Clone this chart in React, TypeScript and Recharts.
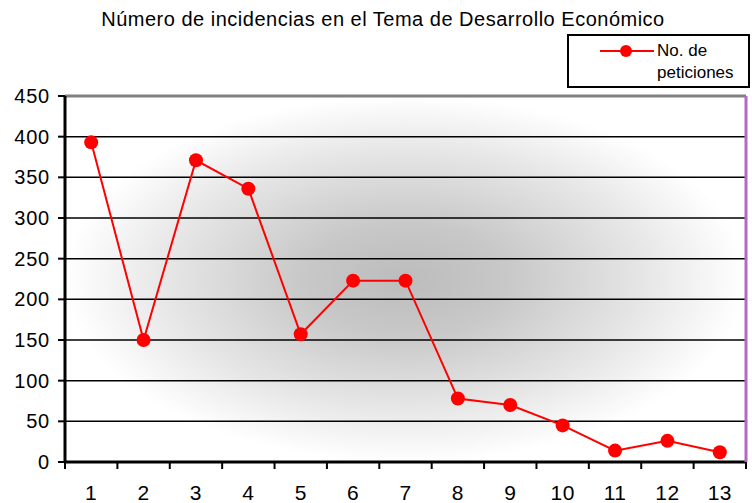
import {
  CartesianGrid,
  Line,
  LineChart,
  ReferenceLine,
  XAxis,
  YAxis,
} from 'recharts';

// Categories 1..13 and the number of petitions for each.
const categories = [1, 2, 3, 4, 5, 6, 7, 8, 9, 10, 11, 12, 13];
const peticiones = [393, 150, 371, 336, 157, 223, 223, 78, 70, 45, 14, 26, 12];
const yTicks = [0, 50, 100, 150, 200, 250, 300, 350, 400, 450];

const title = 'Número de incidencias en el Tema de Desarrollo Económico';
const seriesName = ['No. de', 'peticiones'];

const W = 752;
const H = 503;
const plotLeft = 65;
const plotRight = 6;
const red = '#ff0000';
const font = '"Liberation Sans", Arial, sans-serif';

const data = categories.map((c, i) => ({ x: c, v: peticiones[i] }));

// half a category, for the tick marks that sit between categories
const half = (W - plotLeft - plotRight) / categories.length / 2;

function XTick(props: any) {
  const { x, y, payload } = props;
  const axisY = y - 7;
  const last = payload.value === categories[categories.length - 1];
  return (
    <g>
      <line x1={x - half} x2={x - half} y1={axisY} y2={axisY + 7} stroke="#000" strokeWidth={2} />
      {last && (
        <line x1={x + half} x2={x + half} y1={axisY} y2={axisY + 7} stroke="#000" strokeWidth={2} />
      )}
      <text
        x={x}
        y={y + 31}
        textAnchor="middle"
        fill="#000"
        fontSize={21}
        letterSpacing={0.5}
        fontFamily={font}
      >
        {payload.value}
      </text>
    </g>
  );
}

export default function App() {
  return (
    <div style={{ position: 'absolute', left: 0, top: 0, width: W, height: H, background: '#fff' }}>
      <div
        style={{
          position: 'absolute',
          top: 8,
          left: 0,
          width: 766,
          textAlign: 'center',
          fontFamily: font,
          fontSize: 20,
          letterSpacing: 0.5,
          color: '#000',
          whiteSpace: 'nowrap',
        }}
      >
        {title}
      </div>
      <div
        style={{
          position: 'absolute',
          left: 567,
          top: 34,
          width: 179,
          height: 50,
          border: '2px solid #000',
          fontFamily: font,
          fontSize: 17,
          lineHeight: '22px',
          color: '#000',
        }}
      >
        <svg width={60} height={20} style={{ position: 'absolute', left: 29, top: 5 }}>
          <line x1={2} x2={56} y1={10} y2={10} stroke={red} strokeWidth={2} />
          <circle cx={28} cy={10} r={6} fill={red} />
        </svg>
        <div style={{ position: 'absolute', left: 88, top: 4 }}>
          {seriesName[0]}
          <br />
          {seriesName[1]}
        </div>
      </div>
      <LineChart
        width={W}
        height={H}
        data={data}
        margin={{ top: 96, right: 0, bottom: 0, left: 0 }}
        style={{ position: 'absolute', left: 0, top: 0 }}
      >
        <defs>
          <radialGradient id="bg" cx="0.5" cy="0.5" r="0.5">
            <stop offset="0%" stopColor="#bcbcbc" />
            <stop offset="30%" stopColor="#c8c8c8" />
            <stop offset="70%" stopColor="#e6e6e6" />
            <stop offset="100%" stopColor="#ffffff" />
          </radialGradient>
        </defs>
        <CartesianGrid vertical={false} stroke="#000" strokeWidth={1.5} fill="url(#bg)" />
        <XAxis
          dataKey="x"
          type="number"
          domain={[0.5, 13.5]}
          ticks={categories}
          height={41}
          interval={0}
          tickSize={7}
          tickMargin={0}
          tickLine={false}
          axisLine={{ stroke: '#000', strokeWidth: 3 }}
          tick={<XTick />}
        />
        <YAxis
          domain={[0, 450]}
          ticks={yTicks}
          width={plotLeft}
          tickSize={7}
          tickMargin={8}
          interval={0}
          axisLine={{ stroke: '#000', strokeWidth: 3 }}
          tickLine={{ stroke: '#000', strokeWidth: 2 }}
          tick={{ fill: '#000', fontSize: 20, letterSpacing: 0.8, fontFamily: font }}
        />
        <YAxis
          yAxisId="r"
          orientation="right"
          width={plotRight}
          tick={false}
          tickLine={false}
          axisLine={{ stroke: '#b36bbf', strokeWidth: 3 }}
        />
        <ReferenceLine y={450} stroke="#808080" strokeWidth={3} />
        <Line
          dataKey="v"
          stroke={red}
          strokeWidth={2}
          dot={{ r: 7, fill: red, stroke: red, strokeWidth: 0 }}
          activeDot={false}
          isAnimationActive={false}
        />
      </LineChart>
    </div>
  );
}
